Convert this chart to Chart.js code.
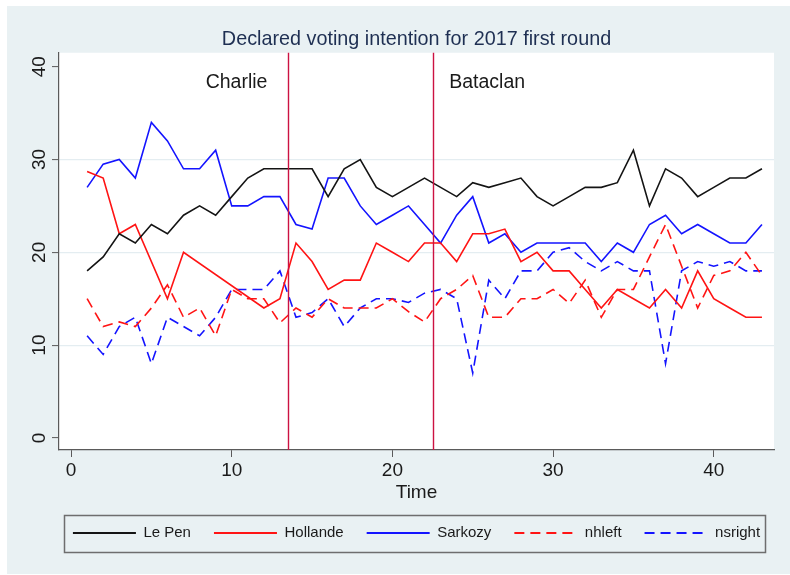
<!DOCTYPE html>
<html>
<head>
<meta charset="utf-8">
<script src="https://cdn.jsdelivr.net/npm/chart.js@4.4.1/dist/chart.umd.min.js"></script>
<style>
  html, body { margin: 0; padding: 0; background: #fff; }
  canvas { display: block; }
</style>
</head>
<body>
<canvas id="chart" width="790" height="575"></canvas>
<script>
// poll rounds (Time)
const times = [1, 2, 3, 4, 5, 6, 7, 8, 9, 10, 11, 12, 13, 14, 15, 16, 17, 18, 19, 20, 21, 22,
  23, 24, 25, 26, 27, 28, 29, 30, 31, 32, 33, 34, 35, 36, 37, 38, 39, 40, 41, 42, 43];

const lePen = [18, 19.5, 22, 21, 23, 22, 24, 25, 24, 26, 28, 29, 29, 29, 29, 26, 29, 30, 27, 26, 27, 28,
  27, 26, 27.5, 27, 27.5, 28, 26, 25, 26, 27, 27, 27.5, 31, 25, 29, 28, 26, 27, 28, 28, 29];
const hollande = [28.7, 28, 22, 23, null, 15, 20, null, null, null, null, 14, 15, 21, 19, 16, 17, 17, 21, 20, 19, 21,
  21, 19, 22, 22, 22.5, 19, 20, 18, 18, 16, 14, 16, 15, 14, 16, 14, 18, 15, 14, 13, 13];
const sarkozy = [27, 29.5, 30, 28, 34, 32, 29, 29, 31, 25, 25, 26, 26, 23, 22.5, 28, 28, 25, 23, 24, 25, 23,
  21, 24, 26, 21, 22, 20, 21, 21, 21, 21, 19, 21, 20, 23, 24, 22, 23, 22, 21, 21, 23];
const nhleft = [15, 12, 12.5, 12, 14, 16.5, 13, 14, 11, 16, 15, 15, 12.4, 14, 13, 15, 14, 14, 14, 15, 13.6, 12.5,
  15, 16, 17.5, 13, 13, 15, 15, 16, 14.5, 17, 13, 16, 16, 19.5, 23, 18.5, 14, 17.5, 18, 20, 17.5];
const nsright = [11, 9, 12, 13, 8, 13, 12, 11, 13, 16, 16, 16, 18, 13, 13.5, 15, 12, 14, 15, 15, 14.6, 15.6,
  16, 15, 7, 17, 15, 18, 18, 20, 20.5, 19, 18, 19, 18, 18, 8, 18, 19, 18.5, 19, 18, 18];

const xTicks = [0, 10, 20, 30, 40];
const yTicks = [0, 10, 20, 30, 40];
const yGrid = [10, 20, 30];

// events marked with vertical lines, and where their labels sit
const eventTimes = [13.5, 22.5];
const eventNames = ["Charlie", "Bataclan"];
const eventLabelX = [10.3, 25.9];
const eventLabelY = 38.3;

const FONT = "'Liberation Sans', Arial, Helvetica, sans-serif";
const AXIS = "#5a5a5a";
const TXT = "#1a1a1a";
const DASH = [10, 6];

const stataLook = {
  id: "stataLook",
  afterLayout(chart) {
    // Stata centres title and legend on the plot region, not the whole graph
    const ca = chart.chartArea;
    const mid = (ca.left + ca.right) / 2;
    [chart.titleBlock, chart.legend].forEach((b) => {
      if (!b) return;
      const d = mid - (b.left + b.right) / 2;
      b.left += d;
      b.right += d;
    });
  },
  beforeDraw(chart) {
    const { ctx, chartArea: ca } = chart;
    ctx.save();
    ctx.fillStyle = "#e9f1f3";
    ctx.fillRect(7, 6, chart.width - 7, chart.height - 7);
    ctx.fillStyle = "#fff";
    ctx.fillRect(ca.left, ca.top, ca.right - ca.left, ca.bottom - ca.top);
    ctx.restore();
  },
  afterDatasetsDraw(chart) {
    const { ctx, chartArea: ca, scales: { x, y } } = chart;
    ctx.save();
    ctx.strokeStyle = "#cc1242";
    ctx.lineWidth = 1.4;
    eventTimes.forEach((t) => {
      const px = Math.round(x.getPixelForValue(t)) + 0.5;
      ctx.beginPath();
      ctx.moveTo(px, ca.top);
      ctx.lineTo(px, ca.bottom);
      ctx.stroke();
    });
    ctx.fillStyle = TXT;
    ctx.font = `19.5px ${FONT}`;
    ctx.textAlign = "center";
    ctx.textBaseline = "middle";
    eventNames.forEach((name, i) => {
      ctx.fillText(name, x.getPixelForValue(eventLabelX[i]), y.getPixelForValue(eventLabelY));
    });
    ctx.restore();
  },
  afterDraw(chart) {
    const boxes = chart.legend && chart.legend.legendHitBoxes;
    if (!boxes || !boxes.length) return;
    const left = Math.min(...boxes.map((b) => b.left)) - 9;
    const right = Math.max(...boxes.map((b) => b.left + b.width)) + 5;
    const cy = boxes[0].top + boxes[0].height / 2;
    const { ctx } = chart;
    ctx.save();
    ctx.strokeStyle = "#6e6e6e";
    ctx.lineWidth = 1.5;
    ctx.strokeRect(Math.round(left) + 0.5, Math.round(cy - 18) + 0.5, Math.round(right - left), 37);
    ctx.restore();
  },
};

function series(label, data, color, dashed) {
  return {
    label, data,
    borderColor: color, backgroundColor: color,
    borderWidth: 1.6,
    borderDash: dashed ? DASH : [],
    pointRadius: 0, tension: 0, spanGaps: true, fill: false,
  };
}

new Chart(document.getElementById("chart"), {
  type: "line",
  data: {
    labels: times,
    datasets: [
      series("Le Pen", lePen, "#141414", false),
      series("Hollande", hollande, "#ff1414", false),
      series("Sarkozy", sarkozy, "#1414ff", false),
      series("nhleft", nhleft, "#ff1414", true),
      series("nsright", nsright, "#1414ff", true),
    ],
  },
  options: {
    responsive: false,
    animation: false,
    devicePixelRatio: 1,
    layout: { padding: { top: 10, left: 0, right: 16, bottom: 24.5 } },
    plugins: {
      title: {
        display: true,
        text: "Declared voting intention for 2017 first round",
        color: "#1e2f52",
        font: { family: FONT, size: 19.8, weight: "normal" },
        padding: { top: 18, bottom: 1 },
      },
      legend: {
        position: "bottom",
        labels: {
          usePointStyle: true,
          pointStyle: "line",
          pointStyleWidth: 63,
          padding: 23,
          color: TXT,
          font: { family: FONT, size: 15 },
          // point-style legend items lose the dash pattern, so put it back
          generateLabels: (chart) =>
            Chart.defaults.plugins.legend.labels.generateLabels(chart).map((item) => ({
              ...item,
              lineDash: chart.data.datasets[item.datasetIndex].borderDash,
              lineWidth: 2,
            })),
        },
      },
      tooltip: { enabled: false },
    },
    scales: {
      x: {
        type: "linear",
        min: -0.75, max: 43.75,
        afterBuildTicks: (s) => { s.ticks = xTicks.map((v) => ({ value: v })); },
        afterFit: (s) => { s.height = 52.5; },
        grid: { drawOnChartArea: false, drawTicks: true, tickLength: 7, tickColor: AXIS, tickWidth: 1 },
        border: { color: AXIS, width: 1.2 },
        ticks: { color: TXT, padding: 2, maxRotation: 0, font: { family: FONT, size: 19 } },
        title: { display: true, text: "Time", color: TXT, padding: { top: 0, bottom: -1.5 }, font: { family: FONT, size: 19 } },
      },
      y: {
        min: -1.3, max: 41.5,
        afterBuildTicks: (s) => { s.ticks = yTicks.map((v) => ({ value: v })); },
        afterFit: (s) => { s.width = 59; },
        grid: {
          color: (c) => (c.tick && yGrid.includes(c.tick.value) ? "#e4edf1" : "rgba(0,0,0,0)"),
          lineWidth: 1.2,
          drawTicks: true, tickLength: 7, tickColor: AXIS, tickWidth: 1,
        },
        border: { color: AXIS, width: 1.2 },
        ticks: { color: TXT, padding: 2, minRotation: 90, maxRotation: 90, crossAlign: "center", font: { family: FONT, size: 19 } },
      },
    },
  },
  plugins: [stataLook],
});
</script>
</body>
</html>
